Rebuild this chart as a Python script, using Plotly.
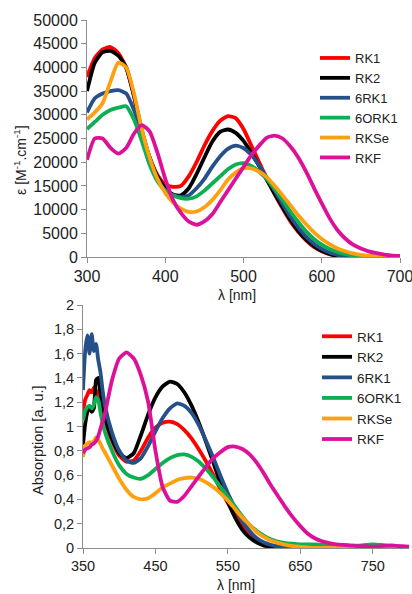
import plotly.graph_objects as go

# ---------------- top chart data (epsilon) ----------------
WL_TOP = [300, 310, 320, 330, 340, 350, 360, 370, 380, 390, 400, 410, 420, 430, 440, 450,
          460, 470, 480, 490, 500, 510, 520, 530, 540, 550, 560, 570, 580, 590, 600, 610,
          620, 630, 640, 650, 660, 670, 680, 690, 700]

EPS_RK1 = [38000, 42000, 43800, 44300, 43000, 40000, 34000, 26500, 21000, 17300, 15300, 14800,
           15000, 17000, 20000, 23500, 26500, 28700, 29700, 29300, 27000, 23500, 20000, 16500,
           13200, 10200, 7500, 5300, 3500, 2100, 1200, 600, 250, 80, 0, 0, 0, 0, 0, 0, 0]
EPS_RK2 = [35000, 41000, 43200, 43500, 42500, 40000, 34000, 26800, 21000, 17000, 14500, 13200,
           13000, 14500, 17500, 21000, 24300, 26400, 26900, 26200, 24500, 22000, 19200, 16200,
           13300, 10500, 7800, 5500, 3700, 2300, 1300, 650, 250, 80, 0, 0, 0, 0, 0, 0, 0]
EPS_6RK1 = [30500, 33500, 34500, 35000, 35200, 34500, 31000, 26000, 20500, 16500, 14000, 13000,
            12700, 13000, 14500, 16500, 19000, 21200, 22800, 23500, 23000, 21500, 19300, 16700,
            14000, 11200, 8500, 6200, 4300, 2800, 1700, 950, 450, 180, 50, 0, 0, 0, 0, 0, 0]
EPS_6ORK1 = [27000, 28500, 30000, 31000, 31500, 31800, 29000, 24500, 19500, 16000, 14000, 13000,
             12400, 12300, 12800, 14000, 15500, 17000, 18500, 19500, 19800, 19200, 18000, 16400,
             14300, 12000, 9600, 7400, 5400, 3800, 2600, 1700, 1050, 600, 320, 150, 60, 0, 0, 0, 0]
EPS_RKSE = [29000, 30500, 32500, 37000, 41000, 40000, 34500, 27000, 21000, 16500, 13500, 11500,
            10200, 9500, 9600, 10500, 12000, 14000, 16300, 17800, 18700, 18700, 18000, 16800,
            15000, 13000, 10900, 8800, 6900, 5200, 3800, 2700, 1800, 1200, 750, 450, 250, 130, 60, 20, 0]
EPS_RKF = [20500, 25000, 25000, 23000, 21800, 23000, 26000, 27800, 26500, 22000, 16500, 12000,
           9300, 7500, 6800, 7500, 9000, 11500, 14000, 16500, 19000, 21500, 23500, 25200,
           25600, 25000, 23300, 21000, 18000, 14600, 11300, 8200, 5700, 3900, 2600, 1800, 1200,
           800, 500, 300, 250]

# ---------------- bottom chart data (absorption) ----------------
WL_BOT = [350, 353, 356, 359, 362, 365, 368, 371, 374, 377, 380,
          390, 400, 410, 420, 430, 440, 450, 460, 470, 480, 490, 500, 510, 520, 530, 540, 550,
          560, 570, 580, 590, 600, 610, 620, 630, 640, 650, 660, 670, 680, 690, 700, 710, 720,
          730, 740, 750, 760, 770, 780, 790, 800]

ABS_RK1 = [1.12, 1.22, 1.26, 1.30, 1.28, 1.32, 1.30, 1.27, 1.20, 1.12, 1.05,
           0.88, 0.76, 0.71, 0.72, 0.80, 0.91, 0.99, 1.03, 1.04, 1.02, 0.97, 0.90, 0.81, 0.71,
           0.60, 0.48, 0.37, 0.27, 0.18, 0.12, 0.07, 0.04, 0.02, 0.01, 0.004, 0, 0, 0, 0, 0, 0,
           0, 0, 0, 0, 0, 0, 0, 0, 0, 0, 0]
ABS_RK2 = [0.85, 1.02, 1.12, 1.16, 1.12, 1.15, 1.38, 1.40, 1.28, 1.18, 1.08,
           0.90, 0.78, 0.74, 0.78, 0.93, 1.10, 1.24, 1.33, 1.37, 1.35, 1.28, 1.17, 1.03, 0.87,
           0.70, 0.53, 0.38, 0.25, 0.15, 0.085, 0.045, 0.02, 0.01, 0.004, 0, 0, 0, 0, 0, 0, 0,
           0, 0, 0, 0, 0, 0, 0, 0, 0, 0, 0]
ABS_6RK1 = [1.30, 1.62, 1.75, 1.60, 1.76, 1.62, 1.68, 1.55, 1.45, 1.30, 1.18,
            0.95, 0.80, 0.72, 0.70, 0.74, 0.84, 0.96, 1.07, 1.15, 1.19, 1.17, 1.11, 1.01, 0.88,
            0.74, 0.59, 0.45, 0.33, 0.22, 0.14, 0.08, 0.045, 0.025, 0.012, 0.005, 0, 0, 0, 0,
            0, 0, 0, 0, 0, 0, 0, 0, 0, 0, 0, 0, 0]
ABS_6ORK1 = [1.05, 1.13, 1.16, 1.17, 1.15, 1.18, 1.24, 1.22, 1.12, 1.03, 0.96,
             0.80, 0.68, 0.61, 0.58, 0.57, 0.60, 0.65, 0.70, 0.74, 0.765, 0.77, 0.75, 0.71, 0.65,
             0.58, 0.50, 0.42, 0.34, 0.26, 0.19, 0.14, 0.10, 0.07, 0.05, 0.04, 0.035, 0.03, 0.03,
             0.03, 0.025, 0.025, 0.02, 0.02, 0.02, 0.02, 0.025, 0.03, 0.025, 0.02, 0.015, 0.01, 0.01]
ABS_RKSE = [0.75, 0.84, 0.86, 0.87, 0.87, 0.88, 0.91, 0.89, 0.86, 0.82, 0.79,
            0.68, 0.57, 0.48, 0.42, 0.40, 0.41, 0.45, 0.50, 0.53, 0.56, 0.575, 0.58, 0.57, 0.54,
            0.50, 0.45, 0.39, 0.32, 0.25, 0.19, 0.13, 0.09, 0.06, 0.04, 0.025, 0.015, 0.01, 0.005,
            0, 0, 0, 0, 0, 0, 0, 0, 0, 0, 0, 0, 0, 0]
ABS_RKF = [0.78, 0.81, 0.82, 0.83, 0.85, 0.86, 0.88, 0.92, 0.98, 1.04, 1.10,
           1.38, 1.56, 1.61, 1.56, 1.42, 1.20, 0.80, 0.50, 0.39, 0.38, 0.43, 0.51, 0.59, 0.67,
           0.74, 0.79, 0.83, 0.835, 0.815, 0.77, 0.70, 0.61, 0.51, 0.42, 0.33, 0.25, 0.18, 0.12,
           0.08, 0.055, 0.04, 0.03, 0.025, 0.02, 0.015, 0.015, 0.012, 0.015, 0.02, 0.02, 0.015, 0.01]

NAMES = ["RK1", "RK2", "6RK1", "6ORK1", "RKSe", "RKF"]
COLORS = ["#FF0000", "#000000", "#25508A", "#0DAF52", "#FFA010", "#DC119A"]

TOP_YTICKS = [0, 5000, 10000, 15000, 20000, 25000, 30000, 35000, 40000, 45000, 50000]
TOP_YTEXT = ["0", "5000", "10000", "15000", "20000", "25000", "30000", "35000", "40000", "45000", "50000"]
TOP_XTICKS = [300, 400, 500, 600, 700]
BOT_YTICKS = [0, 0.2, 0.4, 0.6, 0.8, 1.0, 1.2, 1.4, 1.6, 1.8, 2.0]
BOT_YTEXT = ["0", "0,2", "0,4", "0,6", "0,8", "1", "1,2", "1,4", "1,6", "1,8", "2"]
BOT_XTICKS = [350, 450, 550, 650, 750]

top_series = [EPS_RK1, EPS_RK2, EPS_6RK1, EPS_6ORK1, EPS_RKSE, EPS_RKF]
bot_series = [ABS_RK1, ABS_RK2, ABS_6RK1, ABS_6ORK1, ABS_RKSE, ABS_RKF]

W, H = 412, 594
FONT = "Liberation Sans, Arial, sans-serif"

fig = go.Figure()
for name, col, ys in zip(NAMES, COLORS, top_series):
    fig.add_trace(go.Scatter(x=WL_TOP, y=ys, name=name, mode="lines",
                             line=dict(color=col, width=3.8, shape="spline", smoothing=0.6),
                             xaxis="x", yaxis="y", legend="legend"))
for name, col, ys in zip(NAMES, COLORS, bot_series):
    fig.add_trace(go.Scatter(x=WL_BOT, y=ys, name=name, mode="lines",
                             line=dict(color=col, width=3.8, shape="spline", smoothing=0.5),
                             xaxis="x2", yaxis="y2", legend="legend2"))

axcol = "#8C8C8C"

def axis_style(size):
    return dict(showgrid=False, zeroline=False, showline=True, linecolor=axcol, linewidth=1,
                ticks="outside", ticklen=5, tickcolor=axcol, automargin=False,
                ticklabeloverflow="allow",
                tickfont=dict(family=FONT, size=size, color="#222"))

def px(x):
    return x / W

def py(y):
    return 1 - y / H

fig.update_layout(
    width=W, height=H, margin=dict(l=0, r=0, t=0, b=0, autoexpand=False),
    paper_bgcolor="white", plot_bgcolor="white",
    font=dict(family=FONT, color="#222"),
    xaxis=dict(domain=[px(87), px(400)], range=[300, 700], tickvals=TOP_XTICKS, anchor="y",
               **axis_style(16)),
    yaxis=dict(domain=[py(257), py(20)], range=[0, 50000], tickvals=TOP_YTICKS, ticktext=TOP_YTEXT,
               anchor="x", **axis_style(16)),
    xaxis2=dict(domain=[px(83), px(409)], range=[350, 800], tickvals=BOT_XTICKS, anchor="y2",
                **axis_style(14.5)),
    yaxis2=dict(domain=[py(548), py(305)], range=[0, 2], tickvals=BOT_YTICKS, ticktext=BOT_YTEXT,
                anchor="x2", **axis_style(14.5)),
    legend=dict(x=px(315), y=py(43), xanchor="left", yanchor="top", bgcolor="rgba(0,0,0,0)",
                font=dict(family=FONT, size=13, color="#222"), tracegroupgap=0, itemwidth=30),
    legend2=dict(x=px(317), y=py(321), xanchor="left", yanchor="top", bgcolor="rgba(0,0,0,0)",
                 font=dict(family=FONT, size=13.5, color="#222"), tracegroupgap=0, itemwidth=30),
    showlegend=True,
)

ann = [
    dict(text="ε [M<sup>-1</sup>.cm<sup>-1</sup>]", x=px(20), y=py(160), textangle=-90, size=14),
    dict(text="λ [nm]", x=px(237), y=py(295), textangle=0, size=14),
    dict(text="Absorption [a. u.]", x=px(38), y=py(440), textangle=-90, size=14.5),
    dict(text="λ [nm]", x=px(236), y=py(585), textangle=0, size=14),
]
for a in ann:
    fig.add_annotation(text=a["text"], x=a["x"], y=a["y"], xref="paper", yref="paper",
                       showarrow=False, textangle=a["textangle"], xanchor="center", yanchor="middle",
                       font=dict(family=FONT, size=a["size"], color="#222"))

fig.write_html("out.html", config={"displayModeBar": False},
               post_script="document.body.style.margin='0';document.body.style.overflow='hidden';")
